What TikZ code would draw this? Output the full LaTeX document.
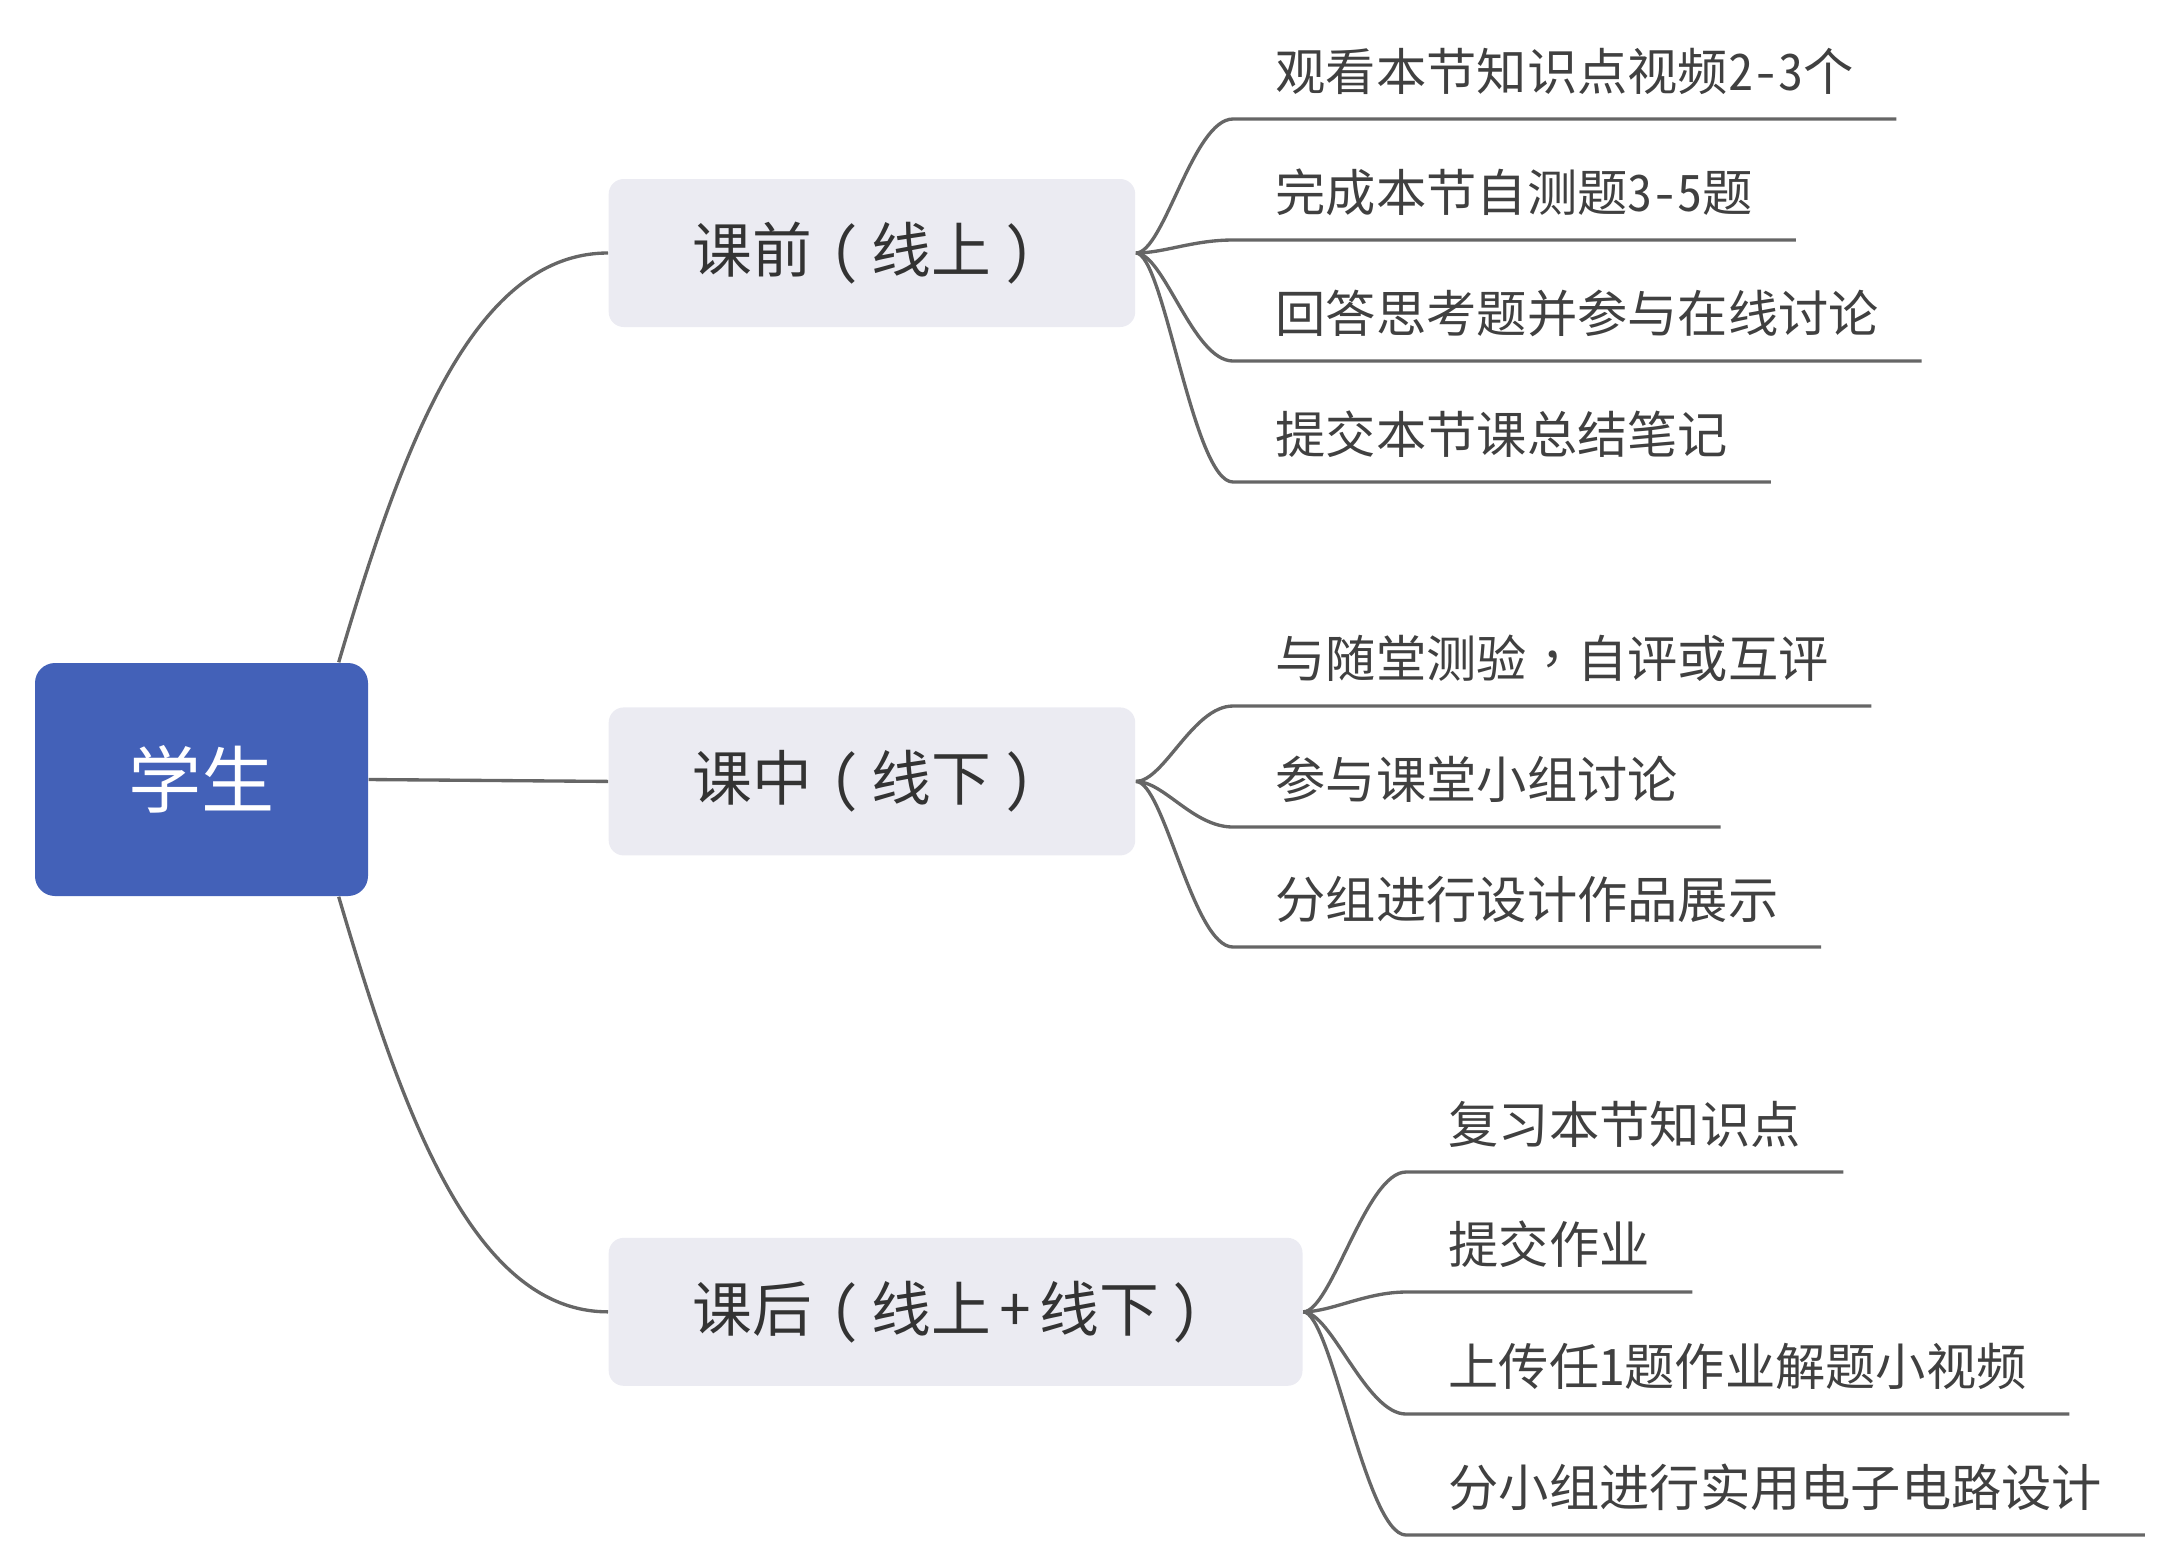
\documentclass[tikz,border=0pt]{standalone}
\usepackage{fontspec}
\newfontfamily\cjk[RawFeature=+hwid]{Noto Sans CJK SC}
\newfontfamily\cjkpunct{Noto Sans CJK TC}
\newcommand\lpar{\makebox[1em][c]{\hspace{0.1em}(}}
\newcommand\rpar{\makebox[1em][c]{)\hspace{0.1em}}}
\newcommand\plussign{\makebox[0.8em][c]{+}}
\newcommand\fullcomma{{\cjkpunct ，}}
\usetikzlibrary{positioning, calc}
\definecolor{rootblue}{HTML}{4361B8}
\definecolor{boxgray}{HTML}{EBEBF2}
\definecolor{linegray}{HTML}{666666}
\definecolor{textdark}{HTML}{333333}
\definecolor{leaftext}{HTML}{404040}
\tikzset{
  rootbox/.style={rectangle, rounded corners=0.2cm, fill=rootblue, text=white, minimum width=3.33cm, minimum height=2.33cm, font=\cjk\fontsize{20.8pt}{24pt}\selectfont},
  phasebox/.style={rectangle, rounded corners=0.15cm, fill=boxgray, text=textdark, inner xsep=0.84cm, minimum height=1.48cm, anchor=west, font=\cjk\fontsize{17pt}{20pt}\selectfont},
  leaf/.style={anchor=south west, inner xsep=0.42cm, inner ysep=0pt, text depth=0.28cm, text=leaftext, font=\cjk\fontsize{14.3pt}{17pt}\selectfont},
  edge/.style={draw=linegray, line width=0.95pt}
}
\begin{document}
\begin{tikzpicture}
\useasboundingbox (0,0) rectangle (21.72,-15.58);

\node[rootbox] (root) at (2.015,-7.795) {学生};

\node[phasebox] (pre) at (6.08,-2.53) {课前\lpar 线上\rpar};
\node[phasebox, below right=3.79cm and 0cm of pre.south west] (mid) {课中\lpar 线下\rpar};
\node[phasebox, below right=3.81cm and 0cm of mid.south west] (post) {课后\lpar 线上\plussign 线下\rpar};

\node[leaf] (pre1) at (12.33,-1.19) {观看本节知识点视频2-3个};
\node[leaf] (pre2) at (12.33,-2.40) {完成本节自测题3-5题};
\node[leaf] (pre3) at (12.33,-3.61) {回答思考题并参与在线讨论};
\node[leaf] (pre4) at (12.33,-4.82) {提交本节课总结笔记};

\node[leaf] (mid1) at (12.33,-7.06) {与随堂测验\fullcomma 自评或互评};
\node[leaf] (mid2) at (12.33,-8.27) {参与课堂小组讨论};
\node[leaf] (mid3) at (12.33,-9.47) {分组进行设计作品展示};

\node[leaf] (post1) at (14.06,-11.72) {复习本节知识点};
\node[leaf] (post2) at (14.06,-12.92) {提交作业};
\node[leaf] (post3) at (14.06,-14.14) {上传任1题作业解题小视频};
\node[leaf] (post4) at (14.06,-15.35) {分小组进行实用电子电路设计};

\draw[edge] ($(root.north east)+(-0.3,0)$) .. controls +(0.62,2.1) and +(-1.37,0) .. (pre.west);
\draw[edge] (root.east) -- (mid.west);
\draw[edge] ($(root.south east)+(-0.3,0)$) .. controls +(0.62,-2.1) and +(-1.37,0) .. (post.west);

\foreach \leafname in {pre1,pre2,pre3,pre4}
  \draw[edge] (pre.east) .. controls +(0.28,0) and +(-0.4,0) .. (\leafname.south west) -- (\leafname.south east);
\foreach \leafname in {mid1,mid2,mid3}
  \draw[edge] (mid.east) .. controls +(0.28,0) and +(-0.4,0) .. (\leafname.south west) -- (\leafname.south east);
\foreach \leafname in {post1,post2,post3,post4}
  \draw[edge] (post.east) .. controls +(0.28,0) and +(-0.4,0) .. (\leafname.south west) -- (\leafname.south east);

\end{tikzpicture}
\end{document}
